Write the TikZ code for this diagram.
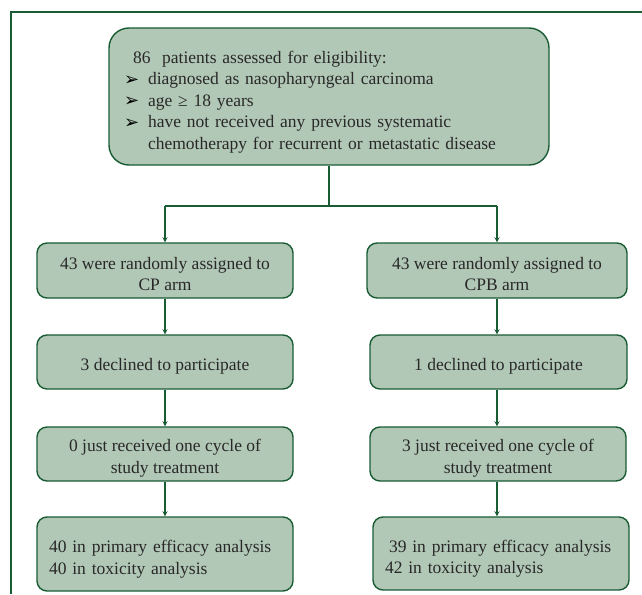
\documentclass[tikz,border=0pt]{standalone}
\usepackage{fontspec}
\setmainfont{Liberation Serif}
\newfontfamily\symfont{DejaVu Sans}
\usetikzlibrary{arrows,positioning,calc}
\definecolor{boxfill}{RGB}{178,200,182}
\definecolor{boxline}{RGB}{25,92,52}
\definecolor{txtgray}{RGB}{40,40,40}
\tikzstyle{stage} = [draw=boxline, fill=boxfill, line width=1.4pt, rounded corners=10pt, align=center, text=txtgray, font=\fontsize{17.5}{21.5}\selectfont]
\tikzstyle{arrow} = [boxline, line width=1.2pt, ->, >=stealth]
\newcommand{\bul}{\makebox[25pt][l]{\hspace*{1pt}\raisebox{-0.5pt}{\color{black}\symfont\fontsize{18}{18}\selectfont ➢}}}
\newcommand{\pad}[1]{\rule{0pt}{#1}}

\begin{document}
\begin{tikzpicture}[x=1pt,y=-1pt]
  \useasboundingbox (0,0) rectangle (642,594);
  % frame
  \draw[boxline, line width=2pt] (10.7,594) -- (10.7,11.7) -- (642,11.7);

  \node[stage, rounded corners=20pt, minimum width=440pt, minimum height=137pt, text width=412pt, inner xsep=14pt, align=left] (elig) at (329,96.5)
    {\pad{23pt}\hspace*{10pt}86\ \ patients assessed for eligibility:\\
     \bul diagnosed as nasopharyngeal carcinoma\\
     \bul age ≥ 18 years\\
     \bul have not received any previous systematic\\
     \hspace*{25pt}chemotherapy for recurrent or metastatic disease};

  % CP arm
  \node[stage, minimum width=256pt, minimum height=55pt] (cp1) at (165,270.5) {\pad{19pt}43 were randomly assigned to\\CP arm};
  \node[stage, minimum width=256pt, minimum height=54pt] (cp2) at (165,362) {\pad{20pt}3 declined to participate};
  \node[stage, minimum width=256pt, minimum height=54pt] (cp3) at (165,454) {\pad{21pt}0 just received one cycle of\\study treatment};
  \node[stage, minimum width=256pt, minimum height=74pt, text width=232pt, align=left] (cp4) at (165,554) {\pad{23pt}40 in primary efficacy analysis\\40 in toxicity analysis};

  % CPB arm
  \node[stage, minimum width=260pt, minimum height=55pt] (cpb1) at (497,270.5) {\pad{19pt}43 were randomly assigned to\\CPB arm};
  \node[stage, minimum width=257pt, minimum height=54pt] (cpb2) at (498.5,362) {\pad{20pt}1 declined to participate};
  \node[stage, minimum width=256pt, minimum height=54pt] (cpb3) at (498,454) {\pad{21pt}3 just received one cycle of\\study treatment};
  \node[stage, minimum width=256pt, minimum height=73pt, text width=232pt, align=left] (cpb4) at (501,553.5) {\pad{23pt}\hspace*{4pt}39 in primary efficacy analysis\\42 in toxicity analysis};

  \coordinate (split) at (329,206);
  \draw[boxline, line width=1.8pt] (elig.south) -- (split);
  \draw[boxline, line width=1.8pt] (split -| cp1) -- (split -| cpb1);
  \draw[arrow] (split -| cp1) -- (cp1.north);
  \draw[arrow] (split -| cpb1) -- (cpb1.north);

  \draw[arrow] (cp1.south) -- (cp2.north);
  \draw[arrow] (cp2.south) -- (cp3.north);
  \draw[arrow] (cp3.south) -- (cp4.north);

  \draw[arrow] (cpb1.south) -- (cpb1.south |- cpb2.north);
  \draw[arrow] (cpb1.south |- cpb2.south) -- (cpb1.south |- cpb3.north);
  \draw[arrow] (cpb1.south |- cpb3.south) -- (cpb1.south |- cpb4.north);
\end{tikzpicture}
\end{document}
